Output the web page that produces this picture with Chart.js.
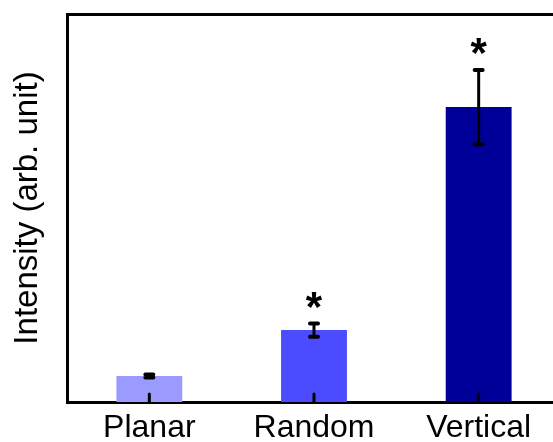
<!DOCTYPE html>
<html>
<head>
<meta charset="utf-8">
<script src="https://cdn.jsdelivr.net/npm/chart.js@4/dist/chart.umd.min.js"></script>
<style>
  html, body { margin: 0; padding: 0; background: #ffffff; overflow: hidden; }
  #wrap { width: 565px; height: 442px; }
</style>
</head>
<body>
<div id="wrap"><canvas id="c" width="565" height="442"></canvas></div>
<script>
// Sample morphologies and measured intensity (arbitrary units)
const categories = ['Planar', 'Random', 'Vertical'];
const intensity = [8.7, 24.1, 98.8];
const intensityErr = [0.5, 2.2, 12.4];
const significant = [false, true, true];
const barColors = ['#9a9aff', '#4b4bff', '#000099'];
const yMin = 0;
const yMax = 130;

// Error bars with caps, drawn from the y scale; significance star above
const errorBars = {
  id: 'errorBars',
  afterDatasetsDraw(chart) {
    const { ctx, scales: { x, y } } = chart;
    ctx.save();
    ctx.strokeStyle = '#000000';
    ctx.lineCap = 'round';
    intensity.forEach((v, i) => {
      const cx = x.getPixelForValue(i);
      const top = y.getPixelForValue(v + intensityErr[i]);
      const bot = y.getPixelForValue(v - intensityErr[i]);
      ctx.lineWidth = 3;
      ctx.beginPath();
      ctx.moveTo(cx, top);
      ctx.lineTo(cx, bot);
      ctx.stroke();
      ctx.lineWidth = 4;
      ctx.beginPath();
      ctx.moveTo(cx - 4, top); ctx.lineTo(cx + 4, top);
      ctx.moveTo(cx - 4, bot); ctx.lineTo(cx + 4, bot);
      ctx.stroke();
      if (significant[i]) {
        ctx.fillStyle = '#000000';
        ctx.font = 'bold 42px "Liberation Sans", Arial, sans-serif';
        ctx.textAlign = 'center';
        ctx.textBaseline = 'alphabetic';
        ctx.fillText('*', cx, top - 3);
      }
    });
    ctx.restore();
  }
};

// Short inward tick marks on the category axis
const innerTicks = {
  id: 'innerTicks',
  afterDatasetsDraw(chart) {
    const { ctx, chartArea, scales: { x } } = chart;
    ctx.save();
    ctx.strokeStyle = '#000000';
    ctx.lineWidth = 3;
    ctx.lineCap = 'round';
    categories.forEach((c, i) => {
      const px = x.getPixelForValue(i);
      ctx.beginPath();
      ctx.moveTo(px, chartArea.bottom);
      ctx.lineTo(px, chartArea.bottom - 8);
      ctx.stroke();
    });
    ctx.restore();
  }
};

new Chart(document.getElementById('c'), {
  type: 'bar',
  data: {
    labels: categories,
    datasets: [{
      data: intensity,
      backgroundColor: barColors,
      borderWidth: 0,
      categoryPercentage: 1.0,
      barPercentage: 0.4
    }]
  },
  options: {
    responsive: false,
    animation: false,
    events: [],
    layout: { padding: 0 },
    plugins: { legend: { display: false }, tooltip: { enabled: false } },
    scales: {
      x: {
        position: 'bottom',
        grid: { display: false, drawTicks: false },
        border: { display: true, color: '#000000', width: 3 },
        ticks: {
          color: '#000000',
          padding: 7,
          maxRotation: 0,
          font: { family: '"Liberation Sans", Arial, sans-serif', size: 32 }
        },
        afterFit(s) { s.height = 40; }
      },
      xTop: {
        position: 'top',
        grid: { display: false, drawTicks: false },
        border: { display: true, color: '#000000', width: 3 },
        ticks: { display: false },
        afterFit(s) { s.height = 14; }
      },
      y: {
        position: 'left',
        min: yMin,
        max: yMax,
        grid: { display: false, drawTicks: false },
        border: { display: true, color: '#000000', width: 3 },
        ticks: { display: false },
        title: {
          display: true,
          text: 'Intensity (arb. unit)',
          color: '#000000',
          padding: { top: 8, bottom: 0 },
          font: { family: '"Liberation Sans", Arial, sans-serif', size: 33 }
        },
        afterFit(s) { s.width = 67; }
      },
      yRight: {
        position: 'right',
        min: yMin,
        max: yMax,
        grid: { display: false, drawTicks: false },
        border: { display: true, color: '#000000', width: 3 },
        ticks: { display: false },
        afterFit(s) { s.width = 4; }
      }
    }
  },
  plugins: [errorBars, innerTicks]
});
</script>
</body>
</html>
